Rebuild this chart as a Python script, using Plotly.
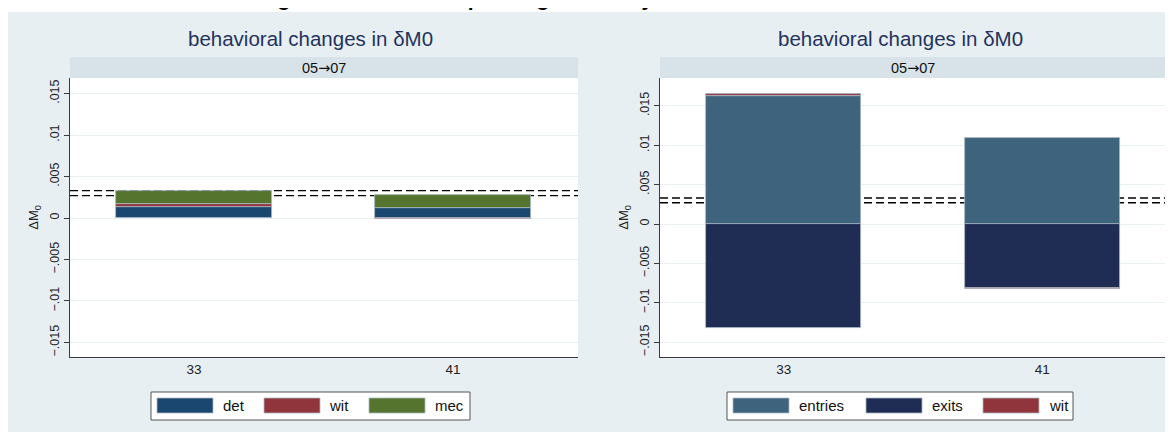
import plotly.graph_objects as go

# page pixels: the figure sits at an 8px body margin inside the 1173x432 window
OFF = 8
W, H = 1173 - OFF, 432 - OFF

# ---------------- data ----------------
categories = ["33", "41"]

# left panel: decomposition of the change
det = [0.00133, 0.00124]
wit = [0.00030, -0.00010]
mec = [0.00167, 0.00156]

# right panel: entries / exits decomposition
entries = [0.01620, 0.01095]
exits = [-0.01320, -0.00815]
wit_right = [0.00030, -0.00010]

# total change (dashed reference lines)
total_change = [0.0033, 0.0027]

y_tickvals = [-0.015, -0.01, -0.005, 0, 0.005, 0.01, 0.015]
y_ticktext = ["\u2212.015", "\u2212.01", "\u2212.005", "0", ".005", ".01", ".015"]

main_title = "Changes in household spending shares by state"
panel_title = "behavioral changes in \u03b4M0"
strip_label = "05<span style=\"font-family:DejaVu Sans\">\u2192</span>07"
y_title = "\u0394M<sub>0</sub>"

left_names = ["det", "wit", "mec"]
left_colors = ["#1a476f", "#90353b", "#55752f"]
right_names = ["entries", "exits", "wit"]
right_colors = ["#3e647d", "#1f2c53", "#90353b"]

# ---------------- style ----------------
FONT = "Liberation Sans, Arial, Helvetica, sans-serif"
PANEL_BG = "#e8eff2"
STRIP_BG = "#d8e3e9"
GRID = "#e9f0f2"
AXIS = "#3a3a3a"
TITLE_COL = "#23335e"
BAR_LINE = "#a9b7c4"


def px(x):
    return (x - OFF) / W


def py(y):
    return 1 - (y - OFF) / H


fig = go.Figure()

left_series = [det, wit, mec]
right_series = [entries, exits, wit_right]

for name, vals, col in zip(left_names, left_series, left_colors):
    fig.add_trace(go.Bar(x=categories, y=vals, name=name, width=0.6,
                         marker=dict(color=col, line=dict(color=BAR_LINE, width=0.8)),
                         xaxis="x", yaxis="y", showlegend=False))
for name, vals, col in zip(right_names, right_series, right_colors):
    fig.add_trace(go.Bar(x=categories, y=vals, name=name, width=0.6,
                         marker=dict(color=col, line=dict(color=BAR_LINE, width=0.8)),
                         xaxis="x2", yaxis="y2", showlegend=False))

plot_y = [py(357), py(78)]
left_x = [px(70), px(578)]
right_x = [px(660), px(1167)]


def yaxis(domain_anchor, rng):
    return dict(domain=plot_y, anchor=domain_anchor, range=rng,
                tickvals=y_tickvals, ticktext=y_ticktext, tickangle=-90,
                ticks="outside", ticklen=5, tickwidth=1, tickcolor=AXIS,
                showline=True, linecolor=AXIS, linewidth=1.2,
                showgrid=True, gridcolor=GRID, gridwidth=1, zeroline=False,
                tickfont=dict(family=FONT, size=12.5, color="#222"),
                title=dict(text=y_title, font=dict(family=FONT, size=13, color="#222"),
                           standoff=6))


def xaxis(domain, anchor):
    return dict(domain=domain, anchor=anchor, type="category",
                range=[-0.479, 1.483], showline=True, linecolor=AXIS, linewidth=1.2,
                ticks="", showgrid=False, zeroline=False,
                tickfont=dict(family=FONT, size=13.5, color="#222"))


shapes = []
# white band above the graph panels (holds the cut-off overall title)
shapes.append(dict(type="rect", xref="paper", yref="paper", x0=0, x1=1, y0=py(12), y1=1,
                   fillcolor="white", line=dict(width=0), layer="below"))
# strips
for xd in (left_x, right_x):
    shapes.append(dict(type="rect", xref="paper", yref="paper", x0=xd[0], x1=xd[1],
                       y0=py(78), y1=py(57), fillcolor=STRIP_BG, line=dict(width=0),
                       layer="below"))
# dashed total-change lines
for xr, yr in (("x", "y"), ("x2", "y2")):
    for v in total_change:
        shapes.append(dict(type="line", xref=xr + " domain", x0=0, x1=1, yref=yr, y0=v, y1=v,
                           line=dict(color="black", width=1.3, dash="8px,4px"),
                           layer="below"))

annotations = []
# overall title (cut off at the top of the window)
annotations.append(dict(text=main_title, xref="paper", yref="paper", x=px(223), y=1,
                        xanchor="left", yanchor="bottom", yshift=-4, showarrow=False,
                        font=dict(family=FONT, size=21, color="black", weight="bold")))
for cx, sx in ((310, 324), (900, 913)):
    annotations.append(dict(text=panel_title, xref="paper", yref="paper", x=px(cx), y=py(38),
                            xanchor="center", yanchor="middle", showarrow=False,
                            font=dict(family=FONT, size=20.5, color=TITLE_COL)))
    annotations.append(dict(text=strip_label, xref="paper", yref="paper", x=px(sx), y=py(67.5),
                            xanchor="center", yanchor="middle", showarrow=False,
                            font=dict(family=FONT, size=14.5, color="#111")))


def add_legend(box, sw_starts, lab_starts, names, colors):
    shapes.append(dict(type="rect", xref="paper", yref="paper", x0=px(box[0]), x1=px(box[1]),
                       y0=py(420), y1=py(392), fillcolor="white",
                       line=dict(color="#555", width=1), layer="above"))
    for s, l, n, c in zip(sw_starts, lab_starts, names, colors):
        shapes.append(dict(type="rect", xref="paper", yref="paper", x0=px(s), x1=px(s + 56),
                           y0=py(413), y1=py(398), fillcolor=c,
                           line=dict(color=BAR_LINE, width=0.8), layer="above"))
        annotations.append(dict(text=n, xref="paper", yref="paper", x=px(l), y=py(405.5),
                                xanchor="left", yanchor="middle", showarrow=False,
                                font=dict(family=FONT, size=15, color="#111")))


add_legend((151, 470), [157, 264, 369], [221, 327, 433], left_names, left_colors)
add_legend((727, 1073), [733, 866, 983], [797, 930, 1047], right_names, right_colors)

fig.update_layout(
    width=W, height=H, autosize=False,
    margin=dict(l=0, r=0, t=0, b=0),
    paper_bgcolor=PANEL_BG, plot_bgcolor="white",
    barmode="relative", bargap=0,
    font=dict(family=FONT),
    xaxis=xaxis(left_x, "y"),
    yaxis=yaxis("x", [-0.01675, 0.01687]),
    xaxis2=xaxis(right_x, "y2"),
    yaxis2=yaxis("x2", [-0.01688, 0.01853]),
    shapes=shapes,
    annotations=annotations,
)

fig.write_html("out.html")
